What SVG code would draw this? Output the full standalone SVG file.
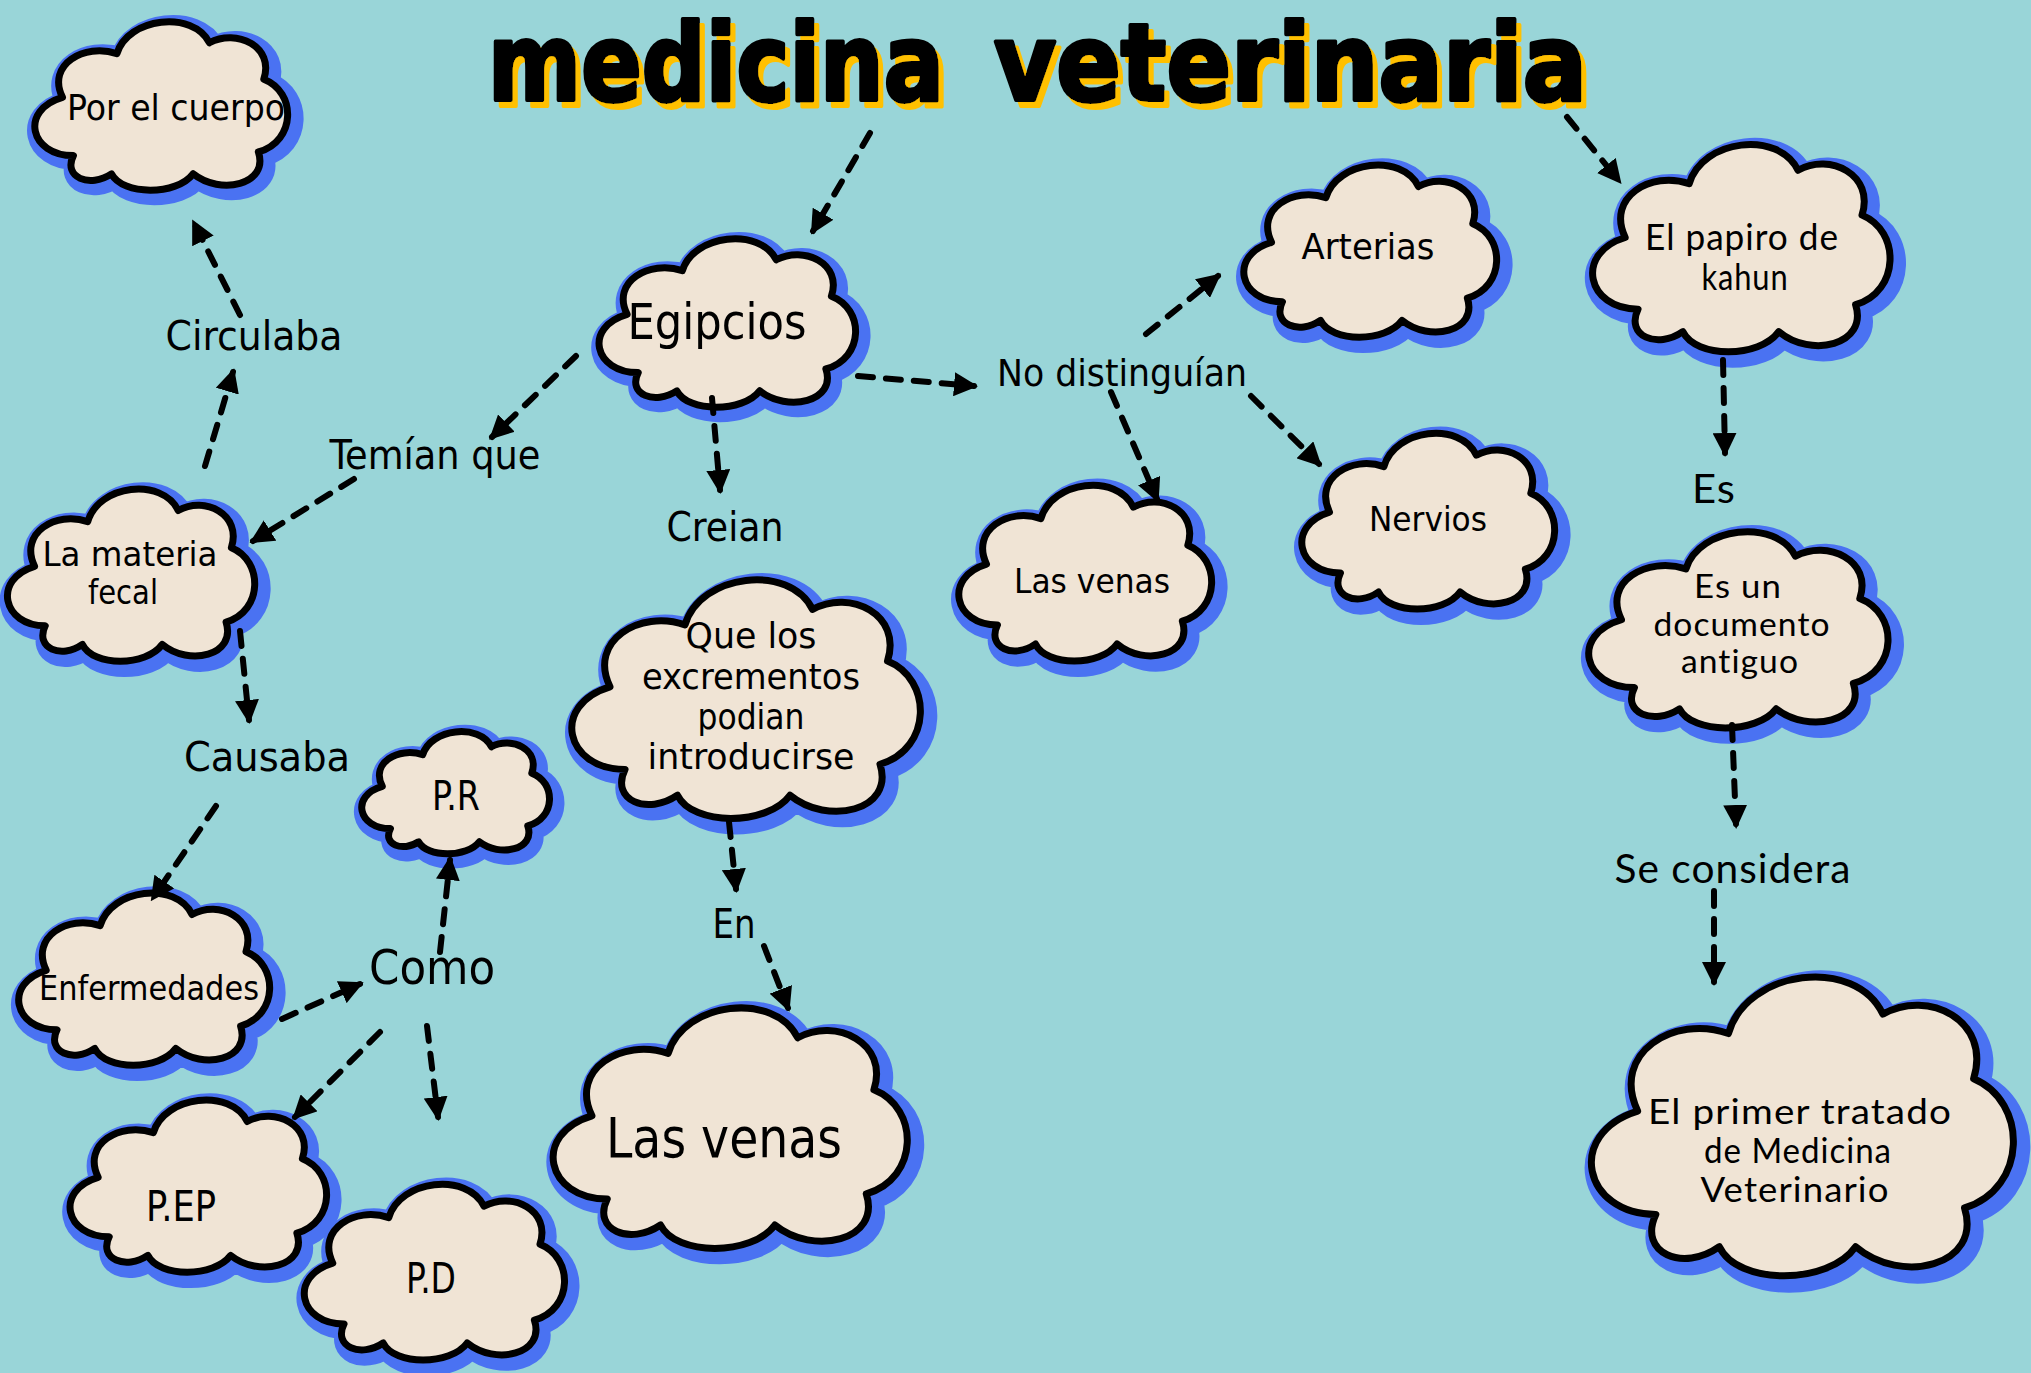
<svg xmlns="http://www.w3.org/2000/svg" width="2031" height="1373" viewBox="0 0 2031 1373">
<style>
.bg{fill:#99D5D8}
.cb{fill:#4A72F2;stroke:#4A72F2;stroke-width:20;stroke-linejoin:round}
.cf{fill:#F0E4D5;stroke:#000;stroke-width:7;stroke-linejoin:round}
.t{font-family:"DejaVu Sans Condensed","DejaVu Sans",sans-serif;font-stretch:condensed;fill:#000;text-anchor:middle}
.r{font-family:"Lato","DejaVu Sans",sans-serif;fill:#000;text-anchor:middle;letter-spacing:1px}
.c{fill:none;stroke:#000;stroke-width:6;stroke-dasharray:15 13;stroke-linecap:round}
.title{font-family:"DejaVu Sans","Liberation Sans",sans-serif;font-weight:bold;font-size:107px;fill:#000;stroke:#000;stroke-width:4;stroke-linejoin:round}
</style>
<defs>
<path id="cloud" vector-effect="non-scaling-stroke" d="M 20,80 C 4,80 0,55 16,48 C 10,30 24,18 36,24 C 40,4 64,0 70,18 C 80,10 94,20 90,38 C 102,45 102,72 88,78 C 92,96 74,102 64,90 C 58,102 38,102 34,90 C 26,98 16,92 20,80 Z"/>
<marker id="ah" viewBox="0 0 12 12" refX="10" refY="6" markerWidth="24" markerHeight="24" markerUnits="userSpaceOnUse" orient="auto">
<path d="M0,0 L12,6 L0,12 Z" fill="#000"/>
</marker>
<filter id="shadow" x="-5%" y="-20%" width="110%" height="150%">
<feOffset in="SourceAlpha" dx="5" dy="6" result="o"/>
<feFlood flood-color="#FFC000"/>
<feComposite in2="o" operator="in" result="s"/>
<feMerge><feMergeNode in="s"/><feMergeNode in="SourceGraphic"/></feMerge>
</filter>
</defs>
<rect class="bg" x="0" y="0" width="2031" height="1373"/>

<g id="title" filter="url(#shadow)">
<text class="title" x="488" y="100" textLength="456" lengthAdjust="spacingAndGlyphs">medicina</text>
<text class="title" x="994" y="100" textLength="593" lengthAdjust="spacingAndGlyphs">veterinaria</text>
</g>

<g id="n-cuerpo">
<use href="#cloud" class="cb" transform="translate(21,13) scale(2.76,1.84)"/>
<use href="#cloud" class="cf" transform="translate(19,10) scale(2.72,1.82)"/>
<text class="t" x="176" y="120" font-size="36" textLength="218" lengthAdjust="spacingAndGlyphs">Por el cuerpo</text>
</g>

<g id="n-egipcios">
<use href="#cloud" class="cb" transform="translate(585,230) scale(2.79,1.84)"/>
<use href="#cloud" class="cf" transform="translate(583,227) scale(2.76,1.82)"/>
<text class="t" x="717" y="339" font-size="50" textLength="179" lengthAdjust="spacingAndGlyphs">Egipcios</text>
</g>

<g id="n-arterias">
<use href="#cloud" class="cb" transform="translate(1230,156) scale(2.76,1.89)"/>
<use href="#cloud" class="cf" transform="translate(1228,153) scale(2.72,1.86)"/>
<text class="t" x="1368" y="259" font-size="36" textLength="133" lengthAdjust="spacingAndGlyphs">Arterias</text>
</g>

<g id="n-papiro">
<use href="#cloud" class="cb" transform="translate(1576,133) scale(3.24,2.27)"/>
<use href="#cloud" class="cf" transform="translate(1574,130) scale(3.2,2.24)"/>
<text class="r" x="1742" y="250" font-size="36" textLength="194" lengthAdjust="spacingAndGlyphs">El papiro de</text>
<text class="r" x="1745" y="290" font-size="36" textLength="87" lengthAdjust="spacingAndGlyphs">kahun</text>
</g>

<g id="l-temian">
<text class="t" x="435" y="469" font-size="40" textLength="211" lengthAdjust="spacingAndGlyphs">Temían que</text>
</g>
<g id="l-circulaba">
<text class="t" x="254" y="350" font-size="40" textLength="177" lengthAdjust="spacingAndGlyphs">Circulaba</text>
</g>

<g id="n-materia">
<use href="#cloud" class="cb" transform="translate(-6,480) scale(2.7,1.89)"/>
<use href="#cloud" class="cf" transform="translate(-8,477) scale(2.66,1.86)"/>
<text class="t" x="130" y="566" font-size="34" textLength="175" lengthAdjust="spacingAndGlyphs">La materia</text>
<text class="t" x="123" y="604" font-size="34" textLength="70" lengthAdjust="spacingAndGlyphs">fecal</text>
</g>

<g id="l-creian">
<text class="t" x="725" y="541" font-size="40" textLength="117" lengthAdjust="spacingAndGlyphs">Creian</text>
</g>
<g id="l-nodist">
<text class="t" x="1122" y="386" font-size="38" textLength="250" lengthAdjust="spacingAndGlyphs">No distinguían</text>
</g>

<g id="n-venas1">
<use href="#cloud" class="cb" transform="translate(945,476) scale(2.76,1.93)"/>
<use href="#cloud" class="cf" transform="translate(943,473) scale(2.72,1.9)"/>
<text class="t" x="1092" y="593" font-size="34" textLength="156" lengthAdjust="spacingAndGlyphs">Las venas</text>
</g>

<g id="n-nervios">
<use href="#cloud" class="cb" transform="translate(1288,424) scale(2.76,1.93)"/>
<use href="#cloud" class="cf" transform="translate(1286,421) scale(2.72,1.9)"/>
<text class="t" x="1428" y="531" font-size="34" textLength="118" lengthAdjust="spacingAndGlyphs">Nervios</text>
</g>

<g id="l-es">
<text class="r" x="1714" y="503" font-size="40" textLength="44" lengthAdjust="spacingAndGlyphs">Es</text>
</g>

<g id="n-documento">
<use href="#cloud" class="cb" transform="translate(1572,521) scale(3.26,2.15)"/>
<use href="#cloud" class="cf" transform="translate(1570,518) scale(3.22,2.12)"/>
<text class="r" x="1738" y="598" font-size="32" textLength="88" lengthAdjust="spacingAndGlyphs">Es un</text>
<text class="r" x="1742" y="636" font-size="32" textLength="177" lengthAdjust="spacingAndGlyphs">documento</text>
<text class="r" x="1740" y="673" font-size="32" textLength="118" lengthAdjust="spacingAndGlyphs">antiguo</text>
</g>

<g id="n-excrementos">
<use href="#cloud" class="cb" transform="translate(553,566) scale(3.79,2.61)"/>
<use href="#cloud" class="cf" transform="translate(550,563) scale(3.75,2.58)"/>
<text class="t" x="751" y="648" font-size="35" textLength="131" lengthAdjust="spacingAndGlyphs">Que los</text>
<text class="t" x="751" y="689" font-size="35" textLength="218" lengthAdjust="spacingAndGlyphs">excrementos</text>
<text class="t" x="751" y="729" font-size="35" textLength="107" lengthAdjust="spacingAndGlyphs">podian</text>
<text class="t" x="751" y="769" font-size="35" textLength="207" lengthAdjust="spacingAndGlyphs">introducirse</text>
</g>

<g id="l-causaba">
<text class="t" x="267" y="771" font-size="40" textLength="166" lengthAdjust="spacingAndGlyphs">Causaba</text>
</g>

<g id="n-pr">
<use href="#cloud" class="cb" transform="translate(352,726) scale(2.05,1.34)"/>
<use href="#cloud" class="cf" transform="translate(350,723) scale(2.02,1.32)"/>
<text class="t" x="456" y="810" font-size="40" textLength="48" lengthAdjust="spacingAndGlyphs">P.R</text>
</g>

<g id="n-enfermedades">
<use href="#cloud" class="cb" transform="translate(5,884) scale(2.74,1.89)"/>
<use href="#cloud" class="cf" transform="translate(3,881) scale(2.7,1.86)"/>
<text class="t" x="149" y="1000" font-size="34" textLength="220" lengthAdjust="spacingAndGlyphs">Enfermedades</text>
</g>

<g id="l-como">
<text class="t" x="432" y="984" font-size="48" textLength="126" lengthAdjust="spacingAndGlyphs">Como</text>
</g>
<g id="l-en">
<text class="t" x="734" y="938" font-size="40" textLength="43" lengthAdjust="spacingAndGlyphs">En</text>
</g>

<g id="n-venas2">
<use href="#cloud" class="cb" transform="translate(534,994) scale(3.85,2.63)"/>
<use href="#cloud" class="cf" transform="translate(531,991) scale(3.81,2.6)"/>
<text class="t" x="724" y="1157" font-size="56" textLength="236" lengthAdjust="spacingAndGlyphs">Las venas</text>
</g>

<g id="n-pep">
<use href="#cloud" class="cb" transform="translate(56,1091) scale(2.79,1.89)"/>
<use href="#cloud" class="cf" transform="translate(54,1088) scale(2.76,1.86)"/>
<text class="t" x="181" y="1221" font-size="42" textLength="70" lengthAdjust="spacingAndGlyphs">P.EP</text>
</g>

<g id="n-pd">
<use href="#cloud" class="cb" transform="translate(290,1175) scale(2.83,1.93)"/>
<use href="#cloud" class="cf" transform="translate(288,1172) scale(2.8,1.9)"/>
<text class="t" x="431" y="1293" font-size="42" textLength="50" lengthAdjust="spacingAndGlyphs">P.D</text>
</g>

<g id="l-considera">
<text class="r" x="1733" y="883" font-size="40" textLength="237" lengthAdjust="spacingAndGlyphs">Se considera</text>
</g>

<g id="n-primer">
<use href="#cloud" class="cb" transform="translate(1568,959) scale(4.58,3.27)"/>
<use href="#cloud" class="cf" transform="translate(1565,956) scale(4.54,3.23)"/>
<text class="r" x="1800" y="1124" font-size="34" textLength="304" lengthAdjust="spacingAndGlyphs">El primer tratado</text>
<text class="r" x="1798" y="1163" font-size="34" textLength="188" lengthAdjust="spacingAndGlyphs">de Medicina</text>
<text class="r" x="1795" y="1202" font-size="34" textLength="189" lengthAdjust="spacingAndGlyphs">Veterinario</text>
</g>

<g id="connectors">
<path class="c" marker-end="url(#ah)" d="M870,133 L813,231"/>
<path class="c" marker-end="url(#ah)" d="M1567,117 L1619,181"/>
<path class="c" marker-end="url(#ah)" d="M576,356 L492,437"/>
<path class="c" marker-end="url(#ah)" d="M354,479 L253,541"/>
<path class="c" marker-end="url(#ah)" d="M205,466 L233,372"/>
<path class="c" marker-end="url(#ah)" d="M240,315 L194,223"/>
<path class="c" marker-end="url(#ah)" d="M712,398 L720,490"/>
<path class="c" marker-end="url(#ah)" d="M858,376 L974,386"/>
<path class="c" marker-end="url(#ah)" d="M1146,334 L1218,276"/>
<path class="c" marker-end="url(#ah)" d="M1111,392 L1157,499"/>
<path class="c" marker-end="url(#ah)" d="M1251,396 L1319,464"/>
<path class="c" marker-end="url(#ah)" d="M1723,360 L1725,453"/>
<path class="c" marker-end="url(#ah)" d="M1732,725 L1736,825"/>
<path class="c" marker-end="url(#ah)" d="M1714,891 L1714,982"/>
<path class="c" marker-end="url(#ah)" d="M240,631 L249,720"/>
<path class="c" marker-end="url(#ah)" d="M216,806 L153,898"/>
<path class="c" marker-end="url(#ah)" d="M282,1019 L360,984"/>
<path class="c" marker-end="url(#ah)" d="M440,952 L450,860"/>
<path class="c" marker-end="url(#ah)" d="M380,1032 L295,1117"/>
<path class="c" marker-end="url(#ah)" d="M427,1026 L438,1117"/>
<path class="c" marker-end="url(#ah)" d="M729,822 L736,889"/>
<path class="c" marker-end="url(#ah)" d="M764,946 L788,1008"/>
</g>
</svg>
